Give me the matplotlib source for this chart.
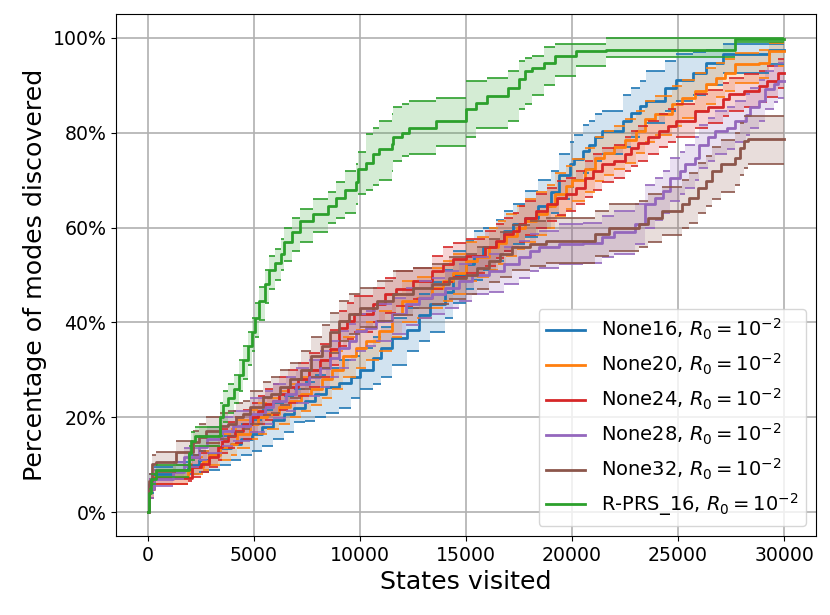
import numpy as np
import matplotlib
matplotlib.use("Agg")
import matplotlib.pyplot as plt
from matplotlib.ticker import PercentFormatter

# ---------------- data (percent of modes discovered vs states visited) ----------------
x_b = [0, 60, 300, 1200, 1900, 2400, 2900, 3400, 3900, 4400, 4900, 5400, 5900, 6400, 6900, 7400, 7900, 8400, 9000, 9600,
       10000, 10600, 11000, 11500, 12200, 12800, 13300, 14000, 14400, 15000, 15400, 15800, 16400, 16800, 17200, 17800,
       18400, 19000, 19400, 19900, 20100, 20500, 20800, 21100, 21400, 22400, 22800, 23200, 23500, 24400, 24900, 25700,
       26300, 27100, 29300, 30000]
m_b = [0, 6, 8, 9, 10, 11, 12.3, 13.5, 14.4, 15.5, 16.5, 18, 19.5, 20.7, 22, 23.5, 24.9, 26.3, 27.2, 28.4,
       30, 32.5, 34.7, 36.8, 38.5, 41.5, 43.8, 46.5, 50, 52.3, 54, 55.8, 57, 59.3, 60.7, 62, 64.5, 67.5, 71, 73.3,
       74.4, 76.1, 77.5, 79, 80.4, 82.4, 84.2, 85.6, 86.7, 89.5, 91.2, 92.6, 94.7, 96.5, 97.5, 97.5]
lo_b = [0, 4, 7, 7.5, 8, 8.5, 9, 10, 11, 12, 13, 14, 15.5, 17, 19, 19.3, 20, 21, 22, 24,
        26, 27, 28.4, 31, 34, 36, 38, 41, 44, 47, 49, 51, 53, 55, 56.5, 58, 60, 63, 66, 68.5,
        70, 71.5, 72.3, 74, 75.5, 77, 79, 80.4, 82, 84.5, 86.7, 88, 90, 92.5, 94.5, 94.5]
hi_b = [0, 8, 9.5, 10.5, 12, 13, 14.5, 16, 17, 18.5, 19.5, 21.5, 23, 24.5, 26, 27.5, 29, 30.5, 32, 33,
        34.7, 37, 39, 41, 43, 46, 48.5, 51, 55, 57.2, 59.3, 60, 61.5, 63.5, 65, 67.7, 70, 72, 75.4, 78,
        79.5, 81.7, 82.5, 84, 84.6, 88, 89.5, 90.9, 93, 95, 96.5, 97, 97.5, 98.6, 98.6, 98.6]

x_o = [0, 60, 300, 1900, 2100, 2600, 2900, 3400, 3900, 4200, 4800, 5200, 5600, 6200, 6700, 7200, 7700, 8200, 8700, 9200,
       9800, 10300, 10900, 11500, 12000, 12700, 13400, 13900, 14400, 15000, 15500, 16100, 16500, 16900, 17400, 17800,
       18300, 18800, 19200, 19700, 20000, 20600, 21100, 21500, 22000, 22500, 23000, 23450, 23900, 24700, 25200, 25800,
       26300, 26800, 27200, 27700, 28800, 29300, 30000]
m_o = [0, 5, 7.5, 8.7, 9.5, 10.9, 12, 13.7, 14.4, 16.5, 18.6, 20, 20.7, 22.1, 23.5, 24.9, 26, 28, 30, 33,
       34.7, 36.1, 38.2, 41.7, 44.5, 45.2, 47.3, 48.7, 50.5, 53, 53.7, 55.8, 56.8, 58.2, 60, 61.4, 62.8, 64.5, 67, 68.8,
       70, 72.3, 74.7, 75.8, 77, 78.5, 80.4, 82.8, 83.9, 86, 87.4, 88.8, 90.2, 91.6, 92.6, 94.4, 94.7, 97.3, 97.3]
lo_o = [0, 3, 6, 7.3, 8, 9, 10, 11, 12, 13.5, 15.5, 16.5, 17.5, 18.6, 20, 21.4, 22.5, 24, 26, 28.5,
        30.5, 32, 34, 37, 40, 41, 43, 44.5, 46, 48.7, 49.5, 51, 52.3, 54, 55.5, 57, 58.5, 60, 62.5, 64,
        65.5, 67.5, 69.8, 71, 72.3, 73.7, 75.8, 78, 79.5, 81.5, 83, 84.6, 86, 87.5, 88.8, 90.5, 91.5, 94, 94]
hi_o = [0, 7, 9, 10.2, 11.6, 13, 14.5, 16.5, 17.5, 19.5, 21.5, 23, 24, 25.5, 27, 28.5, 30, 32, 34, 37,
        38.5, 40, 42.5, 46, 48.7, 49.5, 51.5, 53, 54.5, 57, 58, 60, 61.4, 62.8, 64.5, 66, 67.5, 69, 71.5, 73,
        74.5, 76.8, 79, 80.4, 81.5, 82.8, 84.5, 86.7, 87.7, 89.8, 91, 92.6, 93.7, 94.7, 95.5, 96.8, 97.5, 98.9, 98.9]

x_r = [0, 60, 300, 1900, 2100, 2500, 2900, 3300, 3500, 3800, 4100, 4500, 4900, 5200, 5500, 5900, 6200, 6600, 7100, 7600,
       8100, 8600, 9030, 9400, 9700, 10600, 11200, 11700, 12500, 13400, 13900, 14400, 15000, 15900, 16400, 16800,
       17200, 17500, 17800, 18300, 18800, 19300, 19700, 20200, 20600, 21000, 21400, 22000, 22500, 22800, 23100, 23600,
       24100, 24500, 24900, 25800, 26400, 27100, 27400, 28100, 28800, 29200, 29700, 30000]
m_r = [0, 5, 7.3, 7.3, 9.5, 10.2, 11.6, 13.7, 15, 16.1, 17.2, 18.6, 20, 21.4, 22.8, 23.5, 24.9, 26.3, 28, 30,
       32, 34.5, 38.9, 40.3, 41.7, 43.8, 45.9, 47, 48.7, 50.8, 52.3, 53.3, 54, 55.8, 57.2, 58.6, 59.3, 60.7, 62, 63.5,
       64.9, 66.3, 67, 68.4, 70.5, 71.9, 73.3, 74, 75.4, 76.8, 77.9, 79, 80.4, 81.4, 82.4, 84.6, 85.3, 87, 88.1, 88.8,
       89.8, 90.9, 92.6, 92.6]
lo_r = [0, 3, 6, 6.5, 7.5, 8.5, 9.5, 11, 12.5, 13.5, 14.5, 15.5, 17, 18.5, 19.5, 20.5, 21.5, 23, 24.5, 26.5,
        28.5, 31, 35, 36.5, 38, 40, 42, 43.5, 45, 47, 48.5, 49.5, 50.5, 52, 53.5, 55, 56, 57, 58.5, 60,
        61.3, 62.7, 63.5, 64.9, 66.5, 68, 69.5, 70.5, 72, 73, 74, 75.5, 77, 78, 79, 81, 82, 83.5, 84.5, 85.5,
        86.5, 87.5, 89.5, 89.5]
hi_r = [0, 7, 8.8, 9, 11.5, 12.5, 14, 16, 17.5, 19, 20, 21.5, 23, 24.5, 26, 27, 28.5, 30, 31.5, 33.5,
        35.5, 38.5, 42.4, 44, 45.5, 47.3, 49.4, 50.8, 51.5, 54, 55.8, 56.8, 57.5, 59.3, 60.7, 62, 63, 64.5, 65.5, 67,
        68.4, 69.8, 70.5, 72, 74, 75.5, 76.8, 77.5, 79, 80.4, 81.4, 82.4, 83.9, 85, 86, 88.1, 89, 90.5, 91.6, 92.3,
        93, 94, 95.5, 95.5]

x_p = [0, 60, 300, 1200, 1700, 2400, 2800, 3500, 4000, 4800, 5500, 5900, 6500, 7000, 7600, 8100, 8600, 9030, 9500, 9810,
       10300, 10750, 11500, 12170, 12800, 13420, 14000, 14670, 15300, 16080, 16800, 17500, 18000, 18440, 19400, 20500,
       21400, 22000, 22990, 23450, 23920, 24300, 24600, 25100, 25330, 25800, 26000, 26400, 26750, 27300, 27700, 28200,
       28400, 28800, 29100, 29500, 29700, 30000]
m_p = [0, 5, 7, 8.5, 11.6, 13.7, 15.4, 17.2, 18.2, 20.7, 22.1, 23.5, 25, 27, 28.5, 30.5, 32.5, 34.7, 36.1, 38.2,
       38.9, 40.3, 41.7, 43.8, 45.2, 45.9, 47.3, 48.7, 50.1, 50.8, 52.3, 53.7, 55.1, 55.8, 56.5, 56.8, 58, 59, 60.7, 64.9,
       66.3, 67.7, 70.5, 71.9, 73.3, 74.7, 77.5, 79, 80.4, 81, 82.4, 83.8, 85.3, 86.7, 89.1, 90.2, 90.9, 90.9]
lo_p = [0, 3, 5.5, 7, 9.5, 11, 12.5, 14, 15, 17, 18.5, 19.8, 21.4, 23, 24.5, 26.5, 28.5, 30.5, 32, 34,
        35, 36, 37.5, 39.5, 41, 41.7, 43, 44.5, 45.9, 46.5, 48, 49.4, 50.8, 51.5, 52.3, 52.5, 53.7, 54.5, 56.5, 60,
        61.5, 63, 65.5, 67, 68.4, 70, 72.5, 74, 75.5, 76.5, 78, 79.5, 81, 82.4, 85, 86.5, 87.4, 87.4]
hi_p = [0, 7, 8.8, 10.5, 13.5, 16, 18, 20, 21.4, 24, 25.5, 27, 28.5, 30.5, 32, 34, 36, 38.2, 39.6, 41.7,
        42.4, 43.8, 45.2, 47.3, 48.7, 49.4, 50.8, 52.3, 53.7, 54.4, 55.8, 57.2, 58.6, 59.3, 60.7, 61, 62.5, 63.5, 65, 69,
        70.5, 72, 74.7, 76, 77.5, 79, 81.7, 83, 84.5, 85.3, 86.7, 88.1, 89.5, 91, 93, 94, 94.7, 94.7]

x_n = [0, 60, 200, 400, 1350, 2130, 2400, 2760, 3390, 3800, 4170, 4500, 4800, 5420, 5800, 6210, 6700, 7200, 7700, 8200,
       8600, 9030, 9500, 10000, 10800, 11540, 12500, 13420, 14200, 15000, 15500, 16080, 16600, 17180, 18000, 18750,
       21100, 21730, 23140, 23600, 24230, 25180, 25500, 25960, 26300, 26590, 27000, 27690, 27900, 28100, 28310, 30000]
m_n = [0, 6.6, 10.2, 10.5, 12.6, 14.7, 15.8, 17.2, 18.2, 18.6, 20, 20.7, 22.1, 24.2, 24.9, 26.3, 28, 30, 33, 35,
       38, 40.3, 41.7, 43.1, 44.5, 45.9, 47.3, 48, 49.4, 50.1, 51.5, 53, 54.4, 55.8, 56.5, 57.2, 58.6, 60, 60.7, 62,
       63.5, 64.9, 66.3, 68.4, 69.8, 71.9, 73.3, 74.7, 76.8, 78.2, 78.6, 78.6]
lo_n = [0, 5, 8, 8.5, 10, 12, 13, 14.5, 15.5, 16, 17, 17.5, 18.6, 20.5, 21, 22.5, 24, 26, 28.5, 30.5,
        33.5, 36, 37.5, 39, 40.3, 41.5, 43, 43.8, 45, 45.9, 47, 48.5, 49.5, 51, 52, 52.5, 54, 55, 55.8, 57,
        58.5, 60, 61, 63, 64.5, 66, 67.5, 69, 71, 72.5, 73.3, 73.3]
hi_n = [0, 8, 12, 12.6, 15, 17.2, 18.6, 20, 21, 21.4, 23, 23.5, 25.5, 27.5, 28.5, 30, 31.5, 34, 37, 39.5,
        42, 44.5, 46, 47.3, 48.7, 50.8, 51.5, 52.3, 53.7, 54.4, 56, 57.5, 59, 60.5, 61.4, 62, 63.5, 65, 65.5, 67,
        68.5, 70, 71.5, 73.5, 75, 77, 78.5, 80, 82, 83.5, 83.5, 83.5]

x_g = [0, 60, 150, 400, 1950, 2050, 2200, 3400, 3550, 3800, 4050, 4300, 4500, 4700, 4900, 5050, 5250, 5500, 5700, 6000,
       6300, 6400, 6800, 7150, 7800, 8500, 8870, 9300, 9800, 9900, 10300, 10600, 10900, 11500, 11550, 12000, 12300,
       13600, 15000, 15460, 16000, 17000, 17500, 17800, 18100, 18700, 19200, 20200, 21600, 27700, 30000]
m_g = [0, 4, 7, 8.8, 12.5, 15, 16, 20, 22.5, 24, 26, 29, 32, 35, 38, 41, 44.5, 48, 51, 52.5,
       54.5, 57, 59, 61.4, 62.8, 64.6, 66.3, 68, 69.5, 72.3, 73.5, 75.5, 76.5, 77.6, 79, 80, 81, 82.5, 85, 86.3,
       87.7, 89.5, 91.3, 93, 93.7, 94.7, 96.1, 97.2, 97.5, 99.7, 99.7]
lo_g = [0, 3, 6, 7.5, 9, 11, 14, 16, 19, 21, 23, 25.5, 28, 31, 34, 37, 40.5, 44, 47, 49,
        51, 53, 55, 57, 59, 61, 62, 63, 65, 67, 68, 69, 70, 72, 74, 75, 75.5, 77.2, 79, 81,
        81, 82.5, 85, 86, 88, 90, 92, 94, 96, 99, 99]
hi_g = [0, 5, 8, 10, 14, 17, 18, 23, 25.5, 27, 29, 32, 35, 38, 41, 44, 47.5, 51, 54, 55.5,
        57.5, 60, 62, 64, 66, 67.5, 69.5, 72, 73.4, 76, 79.7, 81, 82.5, 84, 85.3, 86, 86.6, 87.3, 90.9, 90.9,
        91.5, 93, 95, 95.8, 96.1, 98, 98.6, 98.6, 100, 100, 100]

names = ["None16", "None20", "None24", "None28", "None32", "R-PRS_16"]
colors = ["#1f77b4", "#ff7f0e", "#d62728", "#9467bd", "#8c564b", "#2ca02c"]
series = [(x_b, m_b, lo_b, hi_b), (x_o, m_o, lo_o, hi_o), (x_r, m_r, lo_r, hi_r),
          (x_p, m_p, lo_p, hi_p), (x_n, m_n, lo_n, hi_n), (x_g, m_g, lo_g, hi_g)]

# ---------------- plot ----------------
fig = plt.figure(figsize=(8.3, 6.15), dpi=100)
ax = fig.add_axes([0.1398, 0.1285, 0.8433, 0.8487])

for name, col, (xs, ms, ls, hs) in zip(names, colors, series):
    xs = np.asarray(xs, float)
    ax.fill_between(xs, ls, hs, step="post", color=col, alpha=0.2, linewidth=0)
    ax.hlines(ls[:-1], xs[:-1], xs[1:], color=col, linewidth=1.2)
    ax.hlines(hs[:-1], xs[:-1], xs[1:], color=col, linewidth=1.2)
    ax.plot(xs, ms, drawstyle="steps-post", color=col, linewidth=2,
            label=name + r", $R_0 = 10^{-2}$")

ax.set_xlim(-1500, 31500)
ax.set_ylim(-5, 105)
ax.yaxis.set_major_formatter(PercentFormatter(xmax=100, decimals=0))
ax.set_yticks([0, 20, 40, 60, 80, 100])
ax.set_xticks([0, 5000, 10000, 15000, 20000, 25000, 30000])
ax.tick_params(labelsize=13.6)
ax.grid(True, color="#b0b0b0", linewidth=1.2)
ax.set_axisbelow(True)
ax.set_xlabel("States visited", fontsize=18.2)
ax.set_ylabel("Percentage of modes discovered", fontsize=18.2)
ax.legend(loc="lower right", fontsize=14)

fig.savefig("out.png", dpi=100)
